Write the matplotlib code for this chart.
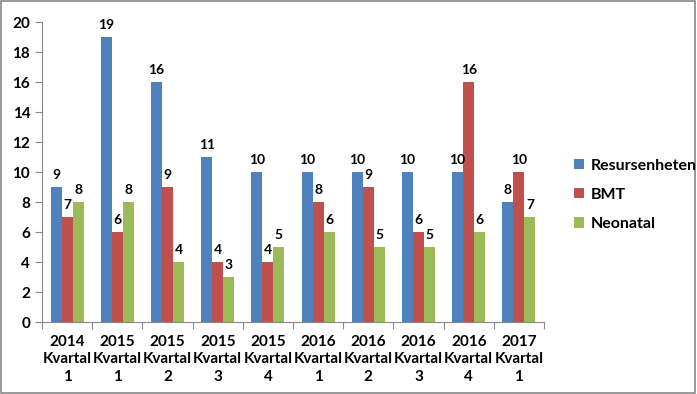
import numpy as np
import matplotlib.pyplot as plt
from matplotlib.patches import Rectangle

plt.rcParams['font.family'] = ['Lato', 'DejaVu Sans']

quarters = ['2014\nKvartal\n1', '2015\nKvartal\n1', '2015\nKvartal\n2', '2015\nKvartal\n3',
            '2015\nKvartal\n4', '2016\nKvartal\n1', '2016\nKvartal\n2', '2016\nKvartal\n3',
            '2016\nKvartal\n4', '2017\nKvartal\n1']
resursenheten = [9, 19, 16, 11, 10, 10, 10, 10, 10, 8]
bmt = [7, 6, 9, 4, 4, 8, 9, 6, 16, 10]
neonatal = [8, 8, 4, 3, 5, 6, 5, 5, 6, 7]

series = [('Resursenheten', resursenheten, '#4F81BD'),
          ('BMT', bmt, '#C0504D'),
          ('Neonatal', neonatal, '#9BBB59')]

fig = plt.figure(figsize=(6.97, 3.94), dpi=100)
ax = fig.add_axes([42/697, 72/394, 502/697, 300/394])

x = np.arange(len(quarters))
w = 0.22
for i, (name, vals, col) in enumerate(series):
    bars = ax.bar(x + (i - 1) * w, vals, w, color=col, label=name)
    for b, v in zip(bars, vals):
        ax.annotate(str(v), (b.get_x() + b.get_width() / 2, v), xytext=(0, 4),
                    textcoords='offset points', ha='center', va='bottom',
                    fontsize=10, fontweight='bold')

ax.set_xlim(-0.5, len(quarters) - 0.5)
ax.set_ylim(0, 20)
ax.set_yticks(range(0, 21, 2))
ax.set_xticks(np.arange(-0.5, len(quarters), 1), minor=False)
ax.set_xticklabels([])
ax.set_xticks(x, minor=True)
ax.set_xticklabels(quarters, minor=True, fontsize=11, fontweight='bold', linespacing=1.35)
ax.tick_params(axis='x', which='minor', length=0, pad=9)
ax.tick_params(axis='x', which='major', length=5, direction='out', color='#888888')
ax.tick_params(axis='y', length=5, direction='out', color='#888888', labelsize=11)
for lab in ax.get_yticklabels():
    lab.set_fontweight('bold')
for s in ['top', 'right']:
    ax.spines[s].set_visible(False)
for s in ['left', 'bottom']:
    ax.spines[s].set_color('#888888')

leg = fig.legend(loc='center left', bbox_to_anchor=(560/697, 1 - 195/394), frameon=False,
                 handlelength=0.6, handleheight=0.6, handletextpad=0.4,
                 labelspacing=0.95, prop={'weight': 'bold', 'size': 11.5})

fig.patches.append(Rectangle((0.002, 0.003), 0.995, 0.994, transform=fig.transFigure,
                             fill=False, edgecolor='#888888', linewidth=1.2))

fig.savefig('out.png', dpi=100)
